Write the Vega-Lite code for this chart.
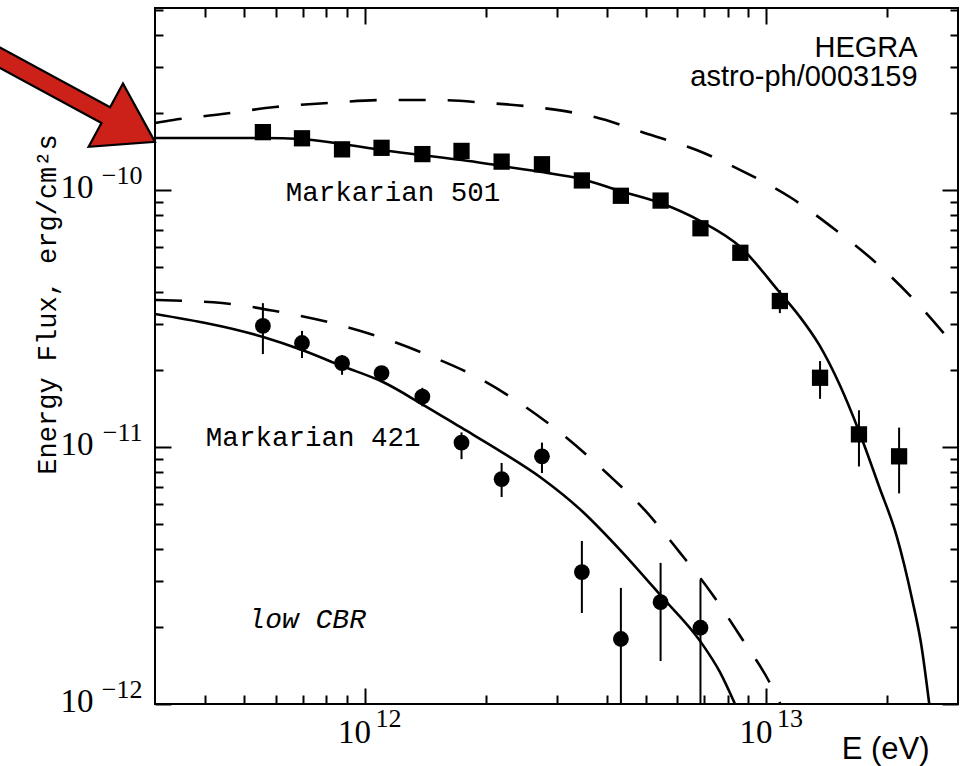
{
  "$schema": "https://vega.github.io/schema/vega-lite/v6.json",
  "width": 803,
  "height": 696,
  "autosize": {"type": "none"},
  "padding": {"left": 155, "top": 8, "right": 3, "bottom": 62},
  "background": "white",
  "config": {
    "font": "Liberation Sans",
    "view": {"stroke": "black", "strokeWidth": 2},
    "axis": {
      "domain": false,
      "grid": false,
      "tickColor": "black",
      "tickWidth": 2,
      "labelColor": "black",
      "titleColor": "black",
      "labelFlush": false,
      "labelOverlap": false
    }
  },
  "datasets": {
    "mkn501_intrinsic": [
      {"E": 3.0e11, "F": 1.823e-10}, {"E": 3.331e11, "F": 1.873e-10}, {"E": 4.41e11, "F": 1.976e-10},
      {"E": 5.973e11, "F": 2.104e-10}, {"E": 8.091e11, "F": 2.181e-10}, {"E": 1.109e12, "F": 2.24e-10},
      {"E": 1.494e12, "F": 2.24e-10}, {"E": 2.035e12, "F": 2.181e-10}, {"E": 2.773e12, "F": 2.085e-10},
      {"E": 3.734e12, "F": 1.923e-10}, {"E": 4.973e12, "F": 1.667e-10}, {"E": 6.698e12, "F": 1.431e-10},
      {"E": 8.816e12, "F": 1.175e-10}, {"E": 1.154e13, "F": 9.31e-11}, {"E": 1.476e13, "F": 7.05e-11},
      {"E": 1.878e13, "F": 5.2e-11}, {"E": 2.335e13, "F": 3.73e-11}, {"E": 3.0e13, "F": 2.38e-11}
    ],
    "mkn501_fit": [
      {"E": 3.0e11, "F": 1.594e-10}, {"E": 5.58e11, "F": 1.594e-10}, {"E": 6.97e11, "F": 1.579e-10},
      {"E": 8.77e11, "F": 1.51e-10}, {"E": 1.102e12, "F": 1.431e-10}, {"E": 1.386e12, "F": 1.368e-10},
      {"E": 1.743e12, "F": 1.308e-10}, {"E": 2.191e12, "F": 1.24e-10}, {"E": 2.756e12, "F": 1.175e-10},
      {"E": 3.465e12, "F": 1.104e-10}, {"E": 4.333e12, "F": 9.9e-11}, {"E": 5.449e12, "F": 8.9e-11},
      {"E": 6.851e12, "F": 7.57e-11}, {"E": 8.615e12, "F": 6.0e-11}, {"E": 1.077e13, "F": 4.01e-11},
      {"E": 1.208e13, "F": 3.23e-11}, {"E": 1.355e13, "F": 2.49e-11}, {"E": 1.519e13, "F": 1.758e-11},
      {"E": 1.703e13, "F": 1.144e-11}, {"E": 1.91e13, "F": 6.99e-12}, {"E": 2.106e13, "F": 4.55e-12},
      {"E": 2.308e13, "F": 2.54e-12}, {"E": 2.43e13, "F": 1.7e-12}, {"E": 2.544e13, "F": 1.0e-12}
    ],
    "mkn421_intrinsic": [
      {"E": 3.0e11, "F": 3.733e-11}, {"E": 4.41e11, "F": 3.634e-11}, {"E": 5.973e11, "F": 3.382e-11},
      {"E": 8.091e11, "F": 3.065e-11}, {"E": 1.09e12, "F": 2.679e-11}, {"E": 1.435e12, "F": 2.28e-11},
      {"E": 1.899e12, "F": 1.872e-11}, {"E": 2.472e12, "F": 1.457e-11}, {"E": 3.162e12, "F": 1.094e-11},
      {"E": 3.999e12, "F": 7.92e-12}, {"E": 4.973e12, "F": 5.69e-12}, {"E": 6.075e12, "F": 3.9e-12},
      {"E": 7.298e12, "F": 2.7e-12}, {"E": 8.666e12, "F": 1.806e-12}, {"E": 1.017e13, "F": 1.218e-12},
      {"E": 1.083e13, "F": 1.0e-12}
    ],
    "mkn421_fit": [
      {"E": 3.0e11, "F": 3.293e-11}, {"E": 5.58e11, "F": 2.679e-11}, {"E": 6.97e11, "F": 2.385e-11},
      {"E": 8.77e11, "F": 2.066e-11}, {"E": 1.109e12, "F": 1.79e-11}, {"E": 1.386e12, "F": 1.47e-11},
      {"E": 1.743e12, "F": 1.186e-11}, {"E": 2.191e12, "F": 9.56e-12}, {"E": 2.756e12, "F": 7.56e-12},
      {"E": 3.465e12, "F": 5.65e-12}, {"E": 4.358e12, "F": 3.92e-12}, {"E": 5.481e12, "F": 2.62e-12},
      {"E": 6.851e12, "F": 1.75e-12}, {"E": 7.66e12, "F": 1.33e-12}, {"E": 8.35e12, "F": 1.0e-12}
    ],
    "mkn501_data": [
      {"E": 5.57e11, "F": 1.68e-10}, {"E": 6.97e11, "F": 1.59e-10}, {"E": 8.77e11, "F": 1.44e-10},
      {"E": 1.10e12, "F": 1.46e-10}, {"E": 1.39e12, "F": 1.38e-10}, {"E": 1.74e12, "F": 1.42e-10},
      {"E": 2.19e12, "F": 1.29e-10}, {"E": 2.76e12, "F": 1.26e-10}, {"E": 3.47e12, "F": 1.09e-10},
      {"E": 4.34e12, "F": 9.5e-11}, {"E": 5.45e12, "F": 9.1e-11}, {"E": 6.85e12, "F": 7.1e-11},
      {"E": 8.61e12, "F": 5.7e-11},
      {"E": 1.08e13, "F": 3.70e-11, "lo": 3.32e-11, "hi": 4.08e-11},
      {"E": 1.36e13, "F": 1.86e-11, "lo": 1.54e-11, "hi": 2.16e-11},
      {"E": 1.70e13, "F": 1.12e-11, "lo": 8.4e-12, "hi": 1.39e-11},
      {"E": 2.14e13, "F": 9.2e-12, "lo": 6.6e-12, "hi": 1.19e-11}
    ],
    "mkn421_data": [
      {"E": 5.57e11, "F": 2.96e-11, "lo": 2.30e-11, "hi": 3.63e-11},
      {"E": 6.97e11, "F": 2.54e-11, "lo": 2.22e-11, "hi": 2.83e-11},
      {"E": 8.77e11, "F": 2.12e-11, "lo": 1.91e-11, "hi": 2.28e-11},
      {"E": 1.10e12, "F": 1.94e-11},
      {"E": 1.39e12, "F": 1.57e-11, "lo": 1.44e-11, "hi": 1.70e-11},
      {"E": 1.74e12, "F": 1.04e-11, "lo": 8.97e-12, "hi": 1.14e-11},
      {"E": 2.19e12, "F": 7.5e-12, "lo": 6.39e-12, "hi": 8.67e-12},
      {"E": 2.76e12, "F": 9.2e-12, "lo": 7.92e-12, "hi": 1.04e-11},
      {"E": 3.47e12, "F": 3.26e-12, "lo": 2.26e-12, "hi": 4.31e-12},
      {"E": 4.34e12, "F": 1.79e-12, "lo": 1.0e-12, "hi": 2.83e-12},
      {"E": 5.45e12, "F": 2.49e-12, "lo": 1.47e-12, "hi": 3.54e-12},
      {"E": 6.85e12, "F": 1.98e-12, "lo": 1.0e-12, "hi": 3.04e-12}
    ],
    "source_names": [
      {"text": "Markarian 501", "E": 1.174e12, "F": 9.73e-11},
      {"text": "Markarian 421", "E": 7.43e11, "F": 1.084e-11}
    ],
    "cbr_note": [
      {"text": "low CBR", "E": 7.18e11, "F": 2.12e-12}
    ],
    "credit": [
      {"text": "HEGRA", "E": 2.38e13, "F": 3.29e-10},
      {"text": "astro-ph/0003159", "E": 2.38e13, "F": 2.54e-10}
    ],
    "pointer": [
      {"E": 3.0e11, "F": 1.54e-10}
    ]
  },
  "resolve": {"axis": {"x": "independent", "y": "independent"}},
  "layer": [
    {
      "data": {"name": "mkn501_intrinsic"},
      "mark": {"type": "line", "color": "black", "strokeWidth": 2.6, "strokeDash": [27, 22], "interpolate": "monotone", "clip": true},
      "encoding": {
        "x": {
          "field": "E", "type": "quantitative",
          "scale": {"type": "log", "domain": [3e11, 3e13], "nice": false},
          "axis": {
            "orient": "bottom", "values": [1e12, 1e13], "tickSize": -16,
            "labelExpr": "'10'", "labelFont": "Liberation Serif", "labelFontSize": 33,
            "labelAlign": "center", "labelBaseline": "middle", "labelOffset": -11, "labelPadding": 44,
            "title": "E (eV)", "titleFont": "Liberation Sans", "titleFontSize": 31, "titleFontWeight": "normal",
            "titleX": 774, "titleY": 54, "titleAlign": "right", "titleBaseline": "alphabetic"
          }
        },
        "y": {
          "field": "F", "type": "quantitative",
          "scale": {"type": "log", "domain": [1e-12, 5.11e-10], "nice": false},
          "axis": {
            "orient": "left", "values": [1e-12, 1e-11, 1e-10], "tickSize": -16,
            "labelExpr": "'10'", "labelFont": "Liberation Serif", "labelFontSize": 33,
            "labelAlign": "right", "labelBaseline": "middle", "labelOffset": -3, "labelPadding": 78,
            "title": "Energy Flux, erg/cm²s", "titleFont": "Liberation Mono", "titleFontSize": 27, "titleFontWeight": "normal",
            "titleAngle": -90, "titleX": -100, "titleY": 296, "titleAlign": "center", "titleBaseline": "alphabetic"
          }
        }
      }
    },
    {
      "data": {"name": "mkn501_fit"},
      "mark": {"type": "line", "color": "black", "strokeWidth": 2.6, "interpolate": "monotone", "clip": true},
      "encoding": {
        "x": {
          "field": "E", "type": "quantitative",
          "scale": {"type": "log", "domain": [3e11, 3e13], "nice": false},
          "axis": {"orient": "top", "values": [1e12, 1e13], "tickSize": -16, "labels": false, "title": null}
        },
        "y": {
          "field": "F", "type": "quantitative",
          "scale": {"type": "log", "domain": [1e-12, 5.11e-10], "nice": false},
          "axis": {"orient": "right", "values": [1e-12, 1e-11, 1e-10], "tickSize": -16, "labels": false, "title": null}
        }
      }
    },
    {
      "data": {"name": "mkn421_intrinsic"},
      "mark": {"type": "line", "color": "black", "strokeWidth": 2.6, "strokeDash": [27, 22], "interpolate": "monotone", "clip": true},
      "encoding": {
        "x": {
          "field": "E", "type": "quantitative",
          "scale": {"type": "log", "domain": [3e11, 3e13], "nice": false},
          "axis": {
            "orient": "bottom",
            "values": [4e11, 5e11, 6e11, 7e11, 8e11, 9e11, 2e12, 3e12, 4e12, 5e12, 6e12, 7e12, 8e12, 9e12, 2e13],
            "tickSize": -9, "labels": false, "title": null
          }
        },
        "y": {
          "field": "F", "type": "quantitative",
          "scale": {"type": "log", "domain": [1e-12, 5.11e-10], "nice": false},
          "axis": {
            "orient": "left",
            "values": [2e-12, 3e-12, 4e-12, 5e-12, 6e-12, 7e-12, 8e-12, 9e-12, 2e-11, 3e-11, 4e-11, 5e-11, 6e-11, 7e-11, 8e-11, 9e-11, 2e-10, 3e-10, 4e-10, 5e-10],
            "tickSize": -8, "labels": false, "title": null
          }
        }
      }
    },
    {
      "data": {"name": "mkn421_fit"},
      "mark": {"type": "line", "color": "black", "strokeWidth": 2.6, "interpolate": "monotone", "clip": true},
      "encoding": {
        "x": {
          "field": "E", "type": "quantitative",
          "scale": {"type": "log", "domain": [3e11, 3e13], "nice": false},
          "axis": {
            "orient": "top",
            "values": [4e11, 5e11, 6e11, 7e11, 8e11, 9e11, 2e12, 3e12, 4e12, 5e12, 6e12, 7e12, 8e12, 9e12, 2e13],
            "tickSize": -9, "labels": false, "title": null
          }
        },
        "y": {
          "field": "F", "type": "quantitative",
          "scale": {"type": "log", "domain": [1e-12, 5.11e-10], "nice": false},
          "axis": {
            "orient": "right",
            "values": [2e-12, 3e-12, 4e-12, 5e-12, 6e-12, 7e-12, 8e-12, 9e-12, 2e-11, 3e-11, 4e-11, 5e-11, 6e-11, 7e-11, 8e-11, 9e-11, 2e-10, 3e-10, 4e-10, 5e-10],
            "tickSize": -8, "labels": false, "title": null
          }
        }
      }
    },
    {
      "data": {"name": "mkn501_data"},
      "transform": [{"filter": "isValid(datum.lo)"}],
      "mark": {"type": "rule", "color": "black", "strokeWidth": 2, "clip": true},
      "encoding": {
        "x": {
          "field": "E", "type": "quantitative",
          "scale": {"type": "log", "domain": [3e11, 3e13], "nice": false},
          "axis": {
            "orient": "bottom", "values": [1e12, 1e13], "ticks": false,
            "labelExpr": "format(round(log(datum.value) / LN10), 'd')",
            "labelFont": "Liberation Serif", "labelFontSize": 26,
            "labelAlign": "center", "labelBaseline": "middle", "labelOffset": 23, "labelPadding": 14,
            "title": null
          }
        },
        "y": {
          "field": "lo", "type": "quantitative",
          "scale": {"type": "log", "domain": [1e-12, 5.11e-10], "nice": false},
          "axis": {
            "orient": "left", "values": [1e-12, 1e-11, 1e-10], "ticks": false,
            "labelExpr": "format(round(log(datum.value) / LN10), 'd')",
            "labelFont": "Liberation Serif", "labelFontSize": 26,
            "labelAlign": "right", "labelBaseline": "middle", "labelOffset": -15, "labelPadding": 13,
            "title": null
          }
        },
        "y2": {"field": "hi"}
      }
    },
    {
      "data": {"name": "mkn421_data"},
      "transform": [{"filter": "isValid(datum.lo)"}],
      "mark": {"type": "rule", "color": "black", "strokeWidth": 2, "clip": true},
      "encoding": {
        "x": {"field": "E", "type": "quantitative", "scale": {"type": "log", "domain": [3e11, 3e13], "nice": false}, "axis": null},
        "y": {"field": "lo", "type": "quantitative", "scale": {"type": "log", "domain": [1e-12, 5.11e-10], "nice": false}, "axis": null},
        "y2": {"field": "hi"}
      }
    },
    {
      "data": {"name": "mkn501_data"},
      "mark": {"type": "point", "shape": "square", "filled": true, "color": "black", "opacity": 1, "size": 265},
      "encoding": {
        "x": {"field": "E", "type": "quantitative", "scale": {"type": "log", "domain": [3e11, 3e13], "nice": false}, "axis": null},
        "y": {"field": "F", "type": "quantitative", "scale": {"type": "log", "domain": [1e-12, 5.11e-10], "nice": false}, "axis": null}
      }
    },
    {
      "data": {"name": "mkn421_data"},
      "mark": {"type": "point", "shape": "circle", "filled": true, "color": "black", "opacity": 1, "size": 250},
      "encoding": {
        "x": {"field": "E", "type": "quantitative", "scale": {"type": "log", "domain": [3e11, 3e13], "nice": false}, "axis": null},
        "y": {"field": "F", "type": "quantitative", "scale": {"type": "log", "domain": [1e-12, 5.11e-10], "nice": false}, "axis": null}
      }
    },
    {
      "data": {"name": "source_names"},
      "mark": {"type": "text", "font": "Liberation Mono", "fontSize": 27.5, "color": "black", "align": "center", "baseline": "middle"},
      "encoding": {
        "x": {"field": "E", "type": "quantitative", "scale": {"type": "log", "domain": [3e11, 3e13], "nice": false}, "axis": null},
        "y": {"field": "F", "type": "quantitative", "scale": {"type": "log", "domain": [1e-12, 5.11e-10], "nice": false}, "axis": null},
        "text": {"field": "text"}
      }
    },
    {
      "data": {"name": "cbr_note"},
      "mark": {"type": "text", "font": "Liberation Mono", "fontSize": 28, "fontStyle": "italic", "color": "black", "align": "center", "baseline": "middle"},
      "encoding": {
        "x": {"field": "E", "type": "quantitative", "scale": {"type": "log", "domain": [3e11, 3e13], "nice": false}, "axis": null},
        "y": {"field": "F", "type": "quantitative", "scale": {"type": "log", "domain": [1e-12, 5.11e-10], "nice": false}, "axis": null},
        "text": {"field": "text"}
      }
    },
    {
      "data": {"name": "credit"},
      "mark": {"type": "text", "font": "Liberation Sans", "fontSize": 29, "color": "black", "align": "right", "baseline": "alphabetic"},
      "encoding": {
        "x": {"field": "E", "type": "quantitative", "scale": {"type": "log", "domain": [3e11, 3e13], "nice": false}, "axis": null},
        "y": {"field": "F", "type": "quantitative", "scale": {"type": "log", "domain": [1e-12, 5.11e-10], "nice": false}, "axis": null},
        "text": {"field": "text"}
      }
    },
    {
      "data": {"name": "pointer"},
      "mark": {
        "type": "point",
        "shape": "M0,0L-56,-36L-56,-9L-280,-9L-280,9L-56,9L-56,36Z",
        "size": 4, "angle": 28.5, "filled": true, "fill": "#cc2119", "opacity": 1,
        "stroke": "black", "strokeWidth": 2.2, "clip": false
      },
      "encoding": {
        "x": {"field": "E", "type": "quantitative", "scale": {"type": "log", "domain": [3e11, 3e13], "nice": false}, "axis": null},
        "y": {"field": "F", "type": "quantitative", "scale": {"type": "log", "domain": [1e-12, 5.11e-10], "nice": false}, "axis": null}
      }
    }
  ]
}
